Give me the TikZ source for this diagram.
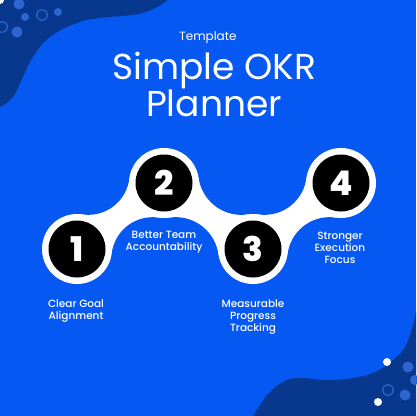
\documentclass[tikz,border=0pt]{standalone}
\usepackage{fontspec}
\setmainfont{Poppins}
\newfontfamily\pmed{Poppins Medium}
\newfontfamily\pheavy{Poppins ExtraBold}
\usetikzlibrary{calc}
\definecolor{mainblue}{HTML}{0558F2}
\definecolor{darkblue}{HTML}{08388E}
\definecolor{dotblue}{HTML}{2C66CE}
\newcommand\okrneck[4]{%
  \coordinate (nm) at ($(#1)!0.5!(#2)$);
  \coordinate (na) at ($(nm)!#3!90:(#2)$);
  \coordinate (nb) at ($(nm)!#3!-90:(#2)$);
  \fill[white] (#1) -- (na) -- (#2) -- (nb) -- cycle;
  \fill[mainblue] (na) circle[radius=#4] (nb) circle[radius=#4];
}
\begin{document}
\begin{tikzpicture}[x=1pt,y=-1pt,
  ring/.style={circle, fill=white, minimum size=70pt, inner sep=0pt},
  disc/.style={circle, fill=black, minimum size=57pt, inner sep=0pt, text=white, font=\fontsize{34}{34}\selectfont\pheavy},
  lbl/.style={text=white, align=center, font=\fontsize{10.5}{11.7}\selectfont\pmed},
  lite/.style={fill=dotblue},
  hollow/.style={draw=dotblue, line width=1.2pt},
  spot/.style={fill=white},
]
\useasboundingbox (0,0) rectangle (416,416);
\fill[mainblue] (0,0) rectangle (416,416);
% background blobs
\fill[darkblue] (0,0) -- plot[smooth, tension=0.7] coordinates {(168,0) (143,13) (100,18) (77,23) (50,37) (33,57) (23,77) (13,97) (0,107)} -- cycle;
\fill[darkblue] (416,416) -- plot[smooth, tension=0.7] coordinates {(253,416) (260,405) (270,392) (285,381) (300,378) (327,380) (353,378) (375,372) (393,360) (407,343) (416,312)} -- cycle;
% dots top-left
\fill[spot] (0,0) circle[radius=4];
\fill[lite] (19,4) circle[radius=5.5];
\fill[lite] (25,17) circle[radius=4];
\draw[hollow] (42,15) circle[radius=5.5];
\fill[lite] (58,12) circle[radius=4];
\draw[hollow] (2,27) circle[radius=5.5];
\fill[lite] (17,32) circle[radius=5.5];
% dots bottom-right
\fill[spot] (387,362) circle[radius=4];
\fill[lite] (408,367) circle[radius=5.5];
\fill[lite] (415,380) circle[radius=5];
\draw[hollow] (388,390) circle[radius=5.5];
\fill[lite] (405,395) circle[radius=5.5];
\fill[spot] (378,402) circle[radius=4];
% titles
\node[text=white, font=\fontsize{12}{14}\selectfont] (tpl) at (208,38) {Template};
\node[text=white, align=center, font=\fontsize{36}{33}\selectfont, anchor=base] (title) at (214,116) {Simple OKR\\Planner};
% steps
\coordinate (p1) at (77,249);
\coordinate (p2) at (164,183);
\coordinate (p3) at (253,249);
\coordinate (p4) at (341,183);
\okrneck{p1}{p2}{53.3pt}{41.3}
\okrneck{p2}{p3}{55.2pt}{43.2}
\okrneck{p3}{p4}{54.3pt}{42.3}
\foreach \i in {1,2,3,4}{
  \node[ring] (c\i) at (p\i) {};
  \node[disc] (d\i) at (p\i) {\i};
}
% labels
\node[lbl] (l1) at (76,311) {Clear Goal\\Alignment};
\node[lbl] (l2) at (164,242) {Better Team\\Accountability};
\node[lbl] (l3) at (253,317) {Measurable\\Progress\\Tracking};
\node[lbl] (l4) at (340,248) {Stronger\\Execution\\Focus};
\end{tikzpicture}
\end{document}
